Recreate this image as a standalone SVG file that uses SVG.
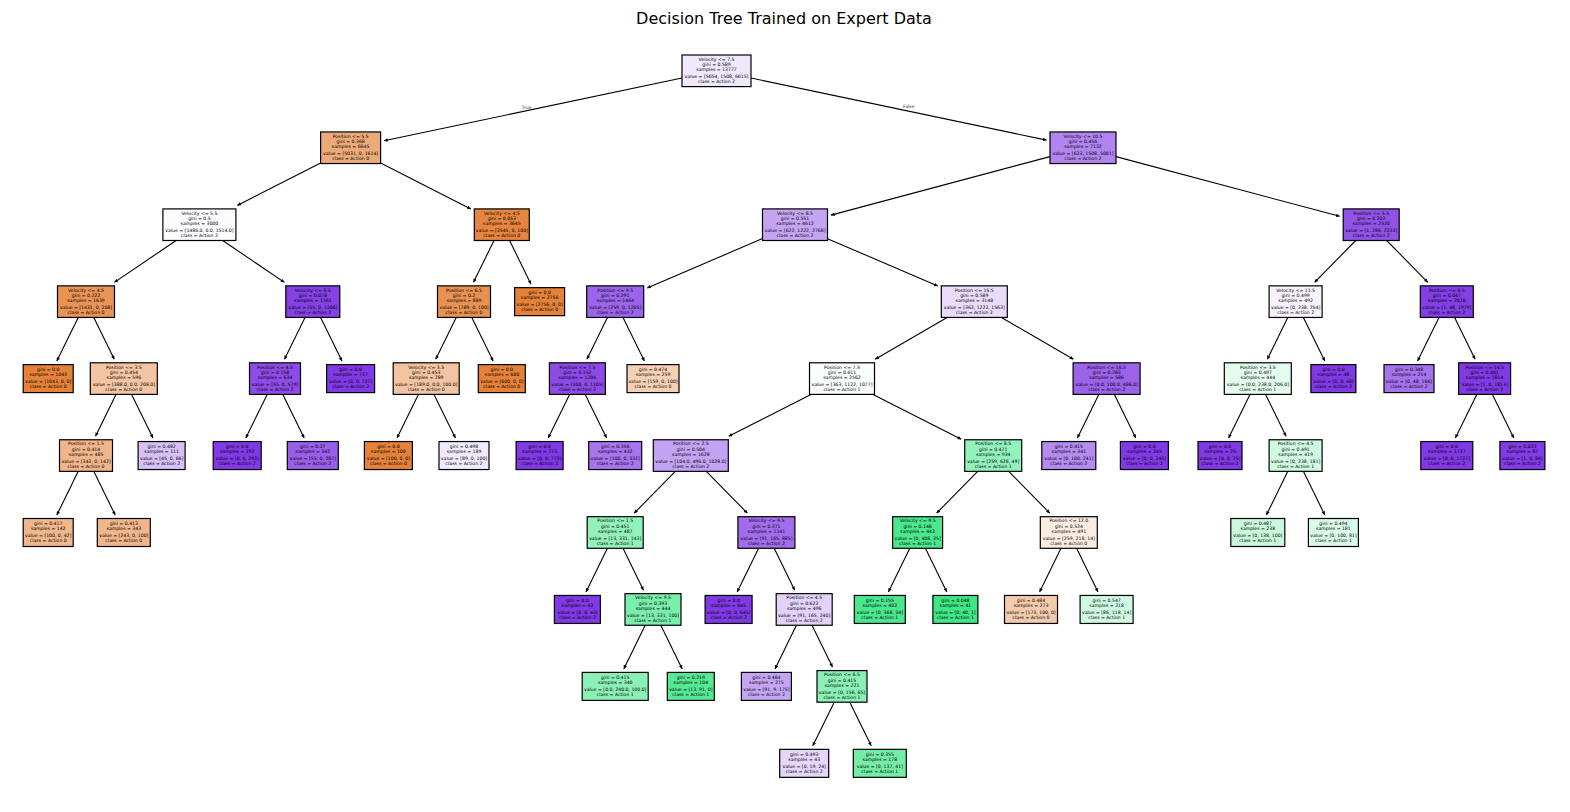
<svg xmlns="http://www.w3.org/2000/svg" width="1570" height="812" viewBox="0 0 1570 812">
<style>
.bg{fill:#fff}
.title{font-family:"DejaVu Sans",sans-serif;font-size:16px;fill:#000;text-anchor:middle}
.n rect{stroke:#000;stroke-width:1.2}
.n text,.lbl{font-family:"DejaVu Sans",sans-serif;font-size:4.6px;fill:#000;text-anchor:middle}
.lbl{fill:#333}
.e line{stroke:#000;stroke-width:1.1;fill:none}
</style>
<defs>
<marker id="ah" viewBox="0 0 4 4" refX="4" refY="2" markerWidth="4" markerHeight="3.6" orient="auto" markerUnits="userSpaceOnUse"><path d="M0,0 L4,2 L0,4 z" fill="#000"/></marker>
</defs>
<rect class="bg" x="0" y="0" width="1570" height="812"/>
<text class="title" x="784" y="24">Decision Tree Trained on Expert Data</text>

<g id="connectors" class="e">
<line x1="682" y1="78.06" x2="384.1" y2="140.7" marker-end="url(#ah)"/>
<line x1="751" y1="78.04" x2="1046.5" y2="140.1" marker-end="url(#ah)"/>
<line x1="320.6" y1="163" x2="237.3" y2="205.4" marker-end="url(#ah)"/>
<line x1="380.6" y1="163" x2="470.8" y2="208.9" marker-end="url(#ah)"/>
<line x1="1050" y1="156.6" x2="831" y2="215.1" marker-end="url(#ah)"/>
<line x1="1116" y1="156.6" x2="1339.7" y2="216.3" marker-end="url(#ah)"/>
<line x1="176.1" y1="240.5" x2="114.4" y2="282.35" marker-end="url(#ah)"/>
<line x1="222.7" y1="240.5" x2="284.4" y2="282.35" marker-end="url(#ah)"/>
<line x1="494" y1="240.5" x2="473.5" y2="282.35" marker-end="url(#ah)"/>
<line x1="509.6" y1="240.5" x2="531" y2="284.15" marker-end="url(#ah)"/>
<line x1="762.5" y1="238.6" x2="647.2" y2="287.95" marker-end="url(#ah)"/>
<line x1="827.5" y1="238.65" x2="937.8" y2="286" marker-end="url(#ah)"/>
<line x1="1355.7" y1="240.5" x2="1314.6" y2="282.35" marker-end="url(#ah)"/>
<line x1="1386.7" y1="240.5" x2="1427.8" y2="282.35" marker-end="url(#ah)"/>
<line x1="78.24" y1="317.45" x2="56.8" y2="361.1" marker-end="url(#ah)"/>
<line x1="93.76" y1="317.45" x2="114.3" y2="359.3" marker-end="url(#ah)"/>
<line x1="305" y1="317.45" x2="284.5" y2="359.3" marker-end="url(#ah)"/>
<line x1="320.6" y1="317.45" x2="342" y2="361.1" marker-end="url(#ah)"/>
<line x1="456.2" y1="317.45" x2="435.7" y2="359.3" marker-end="url(#ah)"/>
<line x1="471.8" y1="317.45" x2="493.2" y2="361.1" marker-end="url(#ah)"/>
<line x1="607.4" y1="317.45" x2="586.9" y2="359.3" marker-end="url(#ah)"/>
<line x1="623" y1="317.45" x2="644.4" y2="361.1" marker-end="url(#ah)"/>
<line x1="947.1" y1="317.45" x2="875.2" y2="359.3" marker-end="url(#ah)"/>
<line x1="1001.5" y1="317.45" x2="1073.4" y2="359.3" marker-end="url(#ah)"/>
<line x1="1287.8" y1="317.45" x2="1267.3" y2="359.3" marker-end="url(#ah)"/>
<line x1="1303.4" y1="317.45" x2="1324.8" y2="361.1" marker-end="url(#ah)"/>
<line x1="1439" y1="317.45" x2="1417.6" y2="361.1" marker-end="url(#ah)"/>
<line x1="1454.6" y1="317.45" x2="1475.1" y2="359.3" marker-end="url(#ah)"/>
<line x1="116" y1="394.4" x2="95.5" y2="436.25" marker-end="url(#ah)"/>
<line x1="131.6" y1="394.4" x2="153" y2="438.05" marker-end="url(#ah)"/>
<line x1="267.2" y1="394.4" x2="245.8" y2="438.05" marker-end="url(#ah)"/>
<line x1="282.8" y1="394.4" x2="304.2" y2="438.05" marker-end="url(#ah)"/>
<line x1="418.4" y1="394.4" x2="397" y2="438.05" marker-end="url(#ah)"/>
<line x1="434" y1="394.4" x2="455.4" y2="438.05" marker-end="url(#ah)"/>
<line x1="569.6" y1="394.4" x2="548.2" y2="438.05" marker-end="url(#ah)"/>
<line x1="585.2" y1="394.4" x2="606.6" y2="438.05" marker-end="url(#ah)"/>
<line x1="811" y1="394.4" x2="728.7" y2="436.25" marker-end="url(#ah)"/>
<line x1="873" y1="394.4" x2="961.2" y2="439.3" marker-end="url(#ah)"/>
<line x1="1098.8" y1="394.4" x2="1077.4" y2="438.05" marker-end="url(#ah)"/>
<line x1="1114.4" y1="394.4" x2="1135.8" y2="438.05" marker-end="url(#ah)"/>
<line x1="1250" y1="394.4" x2="1228.6" y2="438.05" marker-end="url(#ah)"/>
<line x1="1265.6" y1="394.4" x2="1286.1" y2="436.25" marker-end="url(#ah)"/>
<line x1="1476.8" y1="394.4" x2="1455.4" y2="438.05" marker-end="url(#ah)"/>
<line x1="1492.4" y1="394.4" x2="1513.8" y2="438.05" marker-end="url(#ah)"/>
<line x1="78.24" y1="471.35" x2="56.8" y2="515" marker-end="url(#ah)"/>
<line x1="93.76" y1="471.35" x2="115.2" y2="515" marker-end="url(#ah)"/>
<line x1="675.3" y1="471.35" x2="634.2" y2="513.2" marker-end="url(#ah)"/>
<line x1="706.3" y1="471.35" x2="747.4" y2="513.2" marker-end="url(#ah)"/>
<line x1="977.7" y1="471.35" x2="936.6" y2="513.2" marker-end="url(#ah)"/>
<line x1="1008.7" y1="471.35" x2="1049.8" y2="513.2" marker-end="url(#ah)"/>
<line x1="1287.8" y1="471.35" x2="1266.4" y2="515" marker-end="url(#ah)"/>
<line x1="1303.4" y1="471.35" x2="1324.8" y2="515" marker-end="url(#ah)"/>
<line x1="607.4" y1="548.3" x2="586" y2="591.95" marker-end="url(#ah)"/>
<line x1="623" y1="548.3" x2="643.5" y2="590.15" marker-end="url(#ah)"/>
<line x1="758.6" y1="548.3" x2="737.2" y2="591.95" marker-end="url(#ah)"/>
<line x1="774.2" y1="548.3" x2="794.7" y2="590.15" marker-end="url(#ah)"/>
<line x1="909.8" y1="548.3" x2="888.4" y2="591.95" marker-end="url(#ah)"/>
<line x1="925.4" y1="548.3" x2="946.8" y2="591.95" marker-end="url(#ah)"/>
<line x1="1061" y1="548.3" x2="1039.6" y2="591.95" marker-end="url(#ah)"/>
<line x1="1076.6" y1="548.3" x2="1098" y2="591.95" marker-end="url(#ah)"/>
<line x1="645.2" y1="625.25" x2="623.8" y2="668.9" marker-end="url(#ah)"/>
<line x1="660.8" y1="625.25" x2="682.2" y2="668.9" marker-end="url(#ah)"/>
<line x1="796.4" y1="625.25" x2="775" y2="668.9" marker-end="url(#ah)"/>
<line x1="812" y1="625.25" x2="832.5" y2="667.1" marker-end="url(#ah)"/>
<line x1="834.2" y1="702.2" x2="812.8" y2="745.85" marker-end="url(#ah)"/>
<line x1="849.8" y1="702.2" x2="871.2" y2="745.85" marker-end="url(#ah)"/>
</g>
<text class="lbl" x="526.7" y="108.8">True</text>
<text class="lbl" x="908.7" y="108.2">False</text>

<g id="n0" class="n" transform="translate(716.5,70.8)"><rect x="-34.5" y="-15.8" width="69" height="31.6" fill="#f0e8fc"/><text><tspan x="0" y="-10.1">Velocity &lt;= 7.5</tspan><tspan x="0" y="-4.9">gini = 0.589</tspan><tspan x="0" y="0.3">samples = 13777</tspan><tspan x="0" y="7.5">value = [5654, 1508, 6615]</tspan><tspan x="0" y="12.7">class = Action 2</tspan></text></g>
<g id="n1" class="n" transform="translate(350.6,147.75)"><rect x="-30" y="-15.8" width="60" height="31.6" fill="#edaa79"/><text><tspan x="0" y="-10.1">Position &lt;= 5.5</tspan><tspan x="0" y="-4.9">gini = 0.368</tspan><tspan x="0" y="0.3">samples = 6645</tspan><tspan x="0" y="7.5">value = [5031, 0, 1614]</tspan><tspan x="0" y="12.7">class = Action 0</tspan></text></g>
<g id="n2" class="n" transform="translate(1083,147.75)"><rect x="-33" y="-15.8" width="66" height="31.6" fill="#b184ef"/><text><tspan x="0" y="-10.1">Velocity &lt;= 10.5</tspan><tspan x="0" y="-4.9">gini = 0.456</tspan><tspan x="0" y="0.3">samples = 7132</tspan><tspan x="0" y="7.5">value = [623, 1508, 5001]</tspan><tspan x="0" y="12.7">class = Action 2</tspan></text></g>
<g id="n3" class="n" transform="translate(199.4,224.7)"><rect x="-36.5" y="-15.8" width="73" height="31.6" fill="#fdfbff"/><text><tspan x="0" y="-10.1">Velocity &lt;= 5.5</tspan><tspan x="0" y="-4.9">gini = 0.5</tspan><tspan x="0" y="0.3">samples = 3000</tspan><tspan x="0" y="7.5">value = [1486.0, 0.0, 1514.0]</tspan><tspan x="0" y="12.7">class = Action 2</tspan></text></g>
<g id="n4" class="n" transform="translate(501.8,224.7)"><rect x="-27.5" y="-15.8" width="55" height="31.6" fill="#e6853f"/><text><tspan x="0" y="-10.1">Velocity &lt;= 4.5</tspan><tspan x="0" y="-4.9">gini = 0.053</tspan><tspan x="0" y="0.3">samples = 3645</tspan><tspan x="0" y="7.5">value = [3545, 0, 100]</tspan><tspan x="0" y="12.7">class = Action 0</tspan></text></g>
<g id="n5" class="n" transform="translate(795,224.7)"><rect x="-32.5" y="-15.8" width="65" height="31.6" fill="#c5a5f3"/><text><tspan x="0" y="-10.1">Velocity &lt;= 8.5</tspan><tspan x="0" y="-4.9">gini = 0.551</tspan><tspan x="0" y="0.3">samples = 4612</tspan><tspan x="0" y="7.5">value = [622, 1222, 2768]</tspan><tspan x="0" y="12.7">class = Action 2</tspan></text></g>
<g id="n6" class="n" transform="translate(1371.2,224.7)"><rect x="-28" y="-15.8" width="56" height="31.6" fill="#9152e8"/><text><tspan x="0" y="-10.1">Position &lt;= 5.5</tspan><tspan x="0" y="-4.9">gini = 0.202</tspan><tspan x="0" y="0.3">samples = 2520</tspan><tspan x="0" y="7.5">value = [1, 286, 2233]</tspan><tspan x="0" y="12.7">class = Action 2</tspan></text></g>
<g id="n7" class="n" transform="translate(86,301.65)"><rect x="-28.5" y="-15.8" width="57" height="31.6" fill="#e99356"/><text><tspan x="0" y="-10.1">Velocity &lt;= 4.5</tspan><tspan x="0" y="-4.9">gini = 0.222</tspan><tspan x="0" y="0.3">samples = 1639</tspan><tspan x="0" y="7.5">value = [1431, 0, 208]</tspan><tspan x="0" y="12.7">class = Action 0</tspan></text></g>
<g id="n8" class="n" transform="translate(312.8,301.65)"><rect x="-27" y="-15.8" width="54" height="31.6" fill="#8641e6"/><text><tspan x="0" y="-10.1">Velocity &lt;= 6.5</tspan><tspan x="0" y="-4.9">gini = 0.078</tspan><tspan x="0" y="0.3">samples = 1361</tspan><tspan x="0" y="7.5">value = [55, 0, 1306]</tspan><tspan x="0" y="12.7">class = Action 2</tspan></text></g>
<g id="n9" class="n" transform="translate(464,301.65)"><rect x="-26.5" y="-15.8" width="53" height="31.6" fill="#e89152"/><text><tspan x="0" y="-10.1">Position &lt;= 6.5</tspan><tspan x="0" y="-4.9">gini = 0.2</tspan><tspan x="0" y="0.3">samples = 889</tspan><tspan x="0" y="7.5">value = [789, 0, 100]</tspan><tspan x="0" y="12.7">class = Action 0</tspan></text></g>
<g id="n10" class="n" transform="translate(539.6,301.65)"><rect x="-25" y="-14" width="50" height="28" fill="#e58139"/><text><tspan x="0" y="-7.2">gini = 0.0</tspan><tspan x="0" y="-2.2">samples = 2756</tspan><tspan x="0" y="4.8">value = [2756, 0, 0]</tspan><tspan x="0" y="9.8">class = Action 0</tspan></text></g>
<g id="n11" class="n" transform="translate(615.2,301.65)"><rect x="-28.5" y="-15.8" width="57" height="31.6" fill="#9c64eb"/><text><tspan x="0" y="-10.1">Position &lt;= 9.5</tspan><tspan x="0" y="-4.9">gini = 0.291</tspan><tspan x="0" y="0.3">samples = 1464</tspan><tspan x="0" y="7.5">value = [259, 0, 1205]</tspan><tspan x="0" y="12.7">class = Action 2</tspan></text></g>
<g id="n12" class="n" transform="translate(974.3,301.65)"><rect x="-33" y="-15.8" width="66" height="31.6" fill="#e9dcfa"/><text><tspan x="0" y="-10.1">Position &lt;= 15.5</tspan><tspan x="0" y="-4.9">gini = 0.589</tspan><tspan x="0" y="0.3">samples = 3148</tspan><tspan x="0" y="7.5">value = [363, 1222, 1563]</tspan><tspan x="0" y="12.7">class = Action 2</tspan></text></g>
<g id="n13" class="n" transform="translate(1295.6,301.65)"><rect x="-26.5" y="-15.8" width="53" height="31.6" fill="#f7f2fd"/><text><tspan x="0" y="-10.1">Velocity &lt;= 11.5</tspan><tspan x="0" y="-4.9">gini = 0.499</tspan><tspan x="0" y="0.3">samples = 492</tspan><tspan x="0" y="7.5">value = [0, 238, 254]</tspan><tspan x="0" y="12.7">class = Action 2</tspan></text></g>
<g id="n14" class="n" transform="translate(1446.8,301.65)"><rect x="-26.5" y="-15.8" width="53" height="31.6" fill="#843ee6"/><text><tspan x="0" y="-10.1">Position &lt;= 6.5</tspan><tspan x="0" y="-4.9">gini = 0.047</tspan><tspan x="0" y="0.3">samples = 2028</tspan><tspan x="0" y="7.5">value = [1, 48, 1979]</tspan><tspan x="0" y="12.7">class = Action 2</tspan></text></g>
<g id="n15" class="n" transform="translate(48.2,378.6)"><rect x="-25" y="-14" width="50" height="28" fill="#e58139"/><text><tspan x="0" y="-7.2">gini = 0.0</tspan><tspan x="0" y="-2.2">samples = 1043</tspan><tspan x="0" y="4.8">value = [1043, 0, 0]</tspan><tspan x="0" y="9.8">class = Action 0</tspan></text></g>
<g id="n16" class="n" transform="translate(123.8,378.6)"><rect x="-33.5" y="-15.8" width="67" height="31.6" fill="#f3c5a3"/><text><tspan x="0" y="-10.1">Position &lt;= 3.5</tspan><tspan x="0" y="-4.9">gini = 0.454</tspan><tspan x="0" y="0.3">samples = 596</tspan><tspan x="0" y="7.5">value = [388.0, 0.0, 208.0]</tspan><tspan x="0" y="12.7">class = Action 0</tspan></text></g>
<g id="n17" class="n" transform="translate(275,378.6)"><rect x="-25.5" y="-15.8" width="51" height="31.6" fill="#8d4ce7"/><text><tspan x="0" y="-10.1">Position &lt;= 4.5</tspan><tspan x="0" y="-4.9">gini = 0.158</tspan><tspan x="0" y="0.3">samples = 634</tspan><tspan x="0" y="7.5">value = [55, 0, 579]</tspan><tspan x="0" y="12.7">class = Action 2</tspan></text></g>
<g id="n18" class="n" transform="translate(350.6,378.6)"><rect x="-24" y="-14" width="48" height="28" fill="#8139e5"/><text><tspan x="0" y="-7.2">gini = 0.0</tspan><tspan x="0" y="-2.2">samples = 727</tspan><tspan x="0" y="4.8">value = [0, 0, 727]</tspan><tspan x="0" y="9.8">class = Action 2</tspan></text></g>
<g id="n19" class="n" transform="translate(426.2,378.6)"><rect x="-33" y="-15.8" width="66" height="31.6" fill="#f3c4a2"/><text><tspan x="0" y="-10.1">Velocity &lt;= 3.5</tspan><tspan x="0" y="-4.9">gini = 0.453</tspan><tspan x="0" y="0.3">samples = 289</tspan><tspan x="0" y="7.5">value = [189.0, 0.0, 100.0]</tspan><tspan x="0" y="12.7">class = Action 0</tspan></text></g>
<g id="n20" class="n" transform="translate(501.8,378.6)"><rect x="-23.5" y="-14" width="47" height="28" fill="#e58139"/><text><tspan x="0" y="-7.2">gini = 0.0</tspan><tspan x="0" y="-2.2">samples = 600</tspan><tspan x="0" y="4.8">value = [600, 0, 0]</tspan><tspan x="0" y="9.8">class = Action 0</tspan></text></g>
<g id="n21" class="n" transform="translate(577.4,378.6)"><rect x="-28" y="-15.8" width="56" height="31.6" fill="#8c4be7"/><text><tspan x="0" y="-10.1">Position &lt;= 7.5</tspan><tspan x="0" y="-4.9">gini = 0.152</tspan><tspan x="0" y="0.3">samples = 1205</tspan><tspan x="0" y="7.5">value = [100, 0, 1105]</tspan><tspan x="0" y="12.7">class = Action 2</tspan></text></g>
<g id="n22" class="n" transform="translate(653,378.6)"><rect x="-26" y="-14" width="52" height="28" fill="#f5d0b5"/><text><tspan x="0" y="-7.2">gini = 0.474</tspan><tspan x="0" y="-2.2">samples = 259</tspan><tspan x="0" y="4.8">value = [159, 0, 100]</tspan><tspan x="0" y="9.8">class = Action 0</tspan></text></g>
<g id="n23" class="n" transform="translate(842,378.6)"><rect x="-32.5" y="-15.8" width="65" height="31.6" fill="#f9fefb"/><text><tspan x="0" y="-10.1">Position &lt;= 7.5</tspan><tspan x="0" y="-4.9">gini = 0.611</tspan><tspan x="0" y="0.3">samples = 2562</tspan><tspan x="0" y="7.5">value = [363, 1122, 1077]</tspan><tspan x="0" y="12.7">class = Action 1</tspan></text></g>
<g id="n24" class="n" transform="translate(1106.6,378.6)"><rect x="-33.5" y="-15.8" width="67" height="31.6" fill="#9b62ea"/><text><tspan x="0" y="-10.1">Position &lt;= 16.5</tspan><tspan x="0" y="-4.9">gini = 0.283</tspan><tspan x="0" y="0.3">samples = 586</tspan><tspan x="0" y="7.5">value = [0.0, 100.0, 486.0]</tspan><tspan x="0" y="12.7">class = Action 2</tspan></text></g>
<g id="n25" class="n" transform="translate(1257.8,378.6)"><rect x="-33.5" y="-15.8" width="67" height="31.6" fill="#e4fcee"/><text><tspan x="0" y="-10.1">Position &lt;= 3.5</tspan><tspan x="0" y="-4.9">gini = 0.497</tspan><tspan x="0" y="0.3">samples = 444</tspan><tspan x="0" y="7.5">value = [0.0, 238.0, 206.0]</tspan><tspan x="0" y="12.7">class = Action 1</tspan></text></g>
<g id="n26" class="n" transform="translate(1333.4,378.6)"><rect x="-22.5" y="-14" width="45" height="28" fill="#8139e5"/><text><tspan x="0" y="-7.2">gini = 0.0</tspan><tspan x="0" y="-2.2">samples = 48</tspan><tspan x="0" y="4.8">value = [0, 0, 48]</tspan><tspan x="0" y="9.8">class = Action 2</tspan></text></g>
<g id="n27" class="n" transform="translate(1409,378.6)"><rect x="-25" y="-14" width="50" height="28" fill="#a572ed"/><text><tspan x="0" y="-7.2">gini = 0.348</tspan><tspan x="0" y="-2.2">samples = 214</tspan><tspan x="0" y="4.8">value = [0, 48, 166]</tspan><tspan x="0" y="9.8">class = Action 2</tspan></text></g>
<g id="n28" class="n" transform="translate(1484.6,378.6)"><rect x="-26" y="-15.8" width="52" height="31.6" fill="#8139e5"/><text><tspan x="0" y="-10.1">Position &lt;= 14.5</tspan><tspan x="0" y="-4.9">gini = 0.001</tspan><tspan x="0" y="0.3">samples = 1814</tspan><tspan x="0" y="7.5">value = [1, 0, 1813]</tspan><tspan x="0" y="12.7">class = Action 2</tspan></text></g>
<g id="n29" class="n" transform="translate(86,455.55)"><rect x="-26.5" y="-15.8" width="53" height="31.6" fill="#f0b58b"/><text><tspan x="0" y="-10.1">Position &lt;= 1.5</tspan><tspan x="0" y="-4.9">gini = 0.414</tspan><tspan x="0" y="0.3">samples = 485</tspan><tspan x="0" y="7.5">value = [343, 0, 142]</tspan><tspan x="0" y="12.7">class = Action 0</tspan></text></g>
<g id="n30" class="n" transform="translate(161.6,455.55)"><rect x="-23.5" y="-14" width="47" height="28" fill="#d7c0f7"/><text><tspan x="0" y="-7.2">gini = 0.482</tspan><tspan x="0" y="-2.2">samples = 111</tspan><tspan x="0" y="4.8">value = [45, 0, 66]</tspan><tspan x="0" y="9.8">class = Action 2</tspan></text></g>
<g id="n31" class="n" transform="translate(237.2,455.55)"><rect x="-24" y="-14" width="48" height="28" fill="#8139e5"/><text><tspan x="0" y="-7.2">gini = 0.0</tspan><tspan x="0" y="-2.2">samples = 292</tspan><tspan x="0" y="4.8">value = [0, 0, 292]</tspan><tspan x="0" y="9.8">class = Action 2</tspan></text></g>
<g id="n32" class="n" transform="translate(312.8,455.55)"><rect x="-25.5" y="-14" width="51" height="28" fill="#995fea"/><text><tspan x="0" y="-7.2">gini = 0.27</tspan><tspan x="0" y="-2.2">samples = 342</tspan><tspan x="0" y="4.8">value = [55, 0, 287]</tspan><tspan x="0" y="9.8">class = Action 2</tspan></text></g>
<g id="n33" class="n" transform="translate(388.4,455.55)"><rect x="-24" y="-14" width="48" height="28" fill="#e58139"/><text><tspan x="0" y="-7.2">gini = 0.0</tspan><tspan x="0" y="-2.2">samples = 100</tspan><tspan x="0" y="4.8">value = [100, 0, 0]</tspan><tspan x="0" y="9.8">class = Action 0</tspan></text></g>
<g id="n34" class="n" transform="translate(464,455.55)"><rect x="-25" y="-14" width="50" height="28" fill="#f1e9fc"/><text><tspan x="0" y="-7.2">gini = 0.498</tspan><tspan x="0" y="-2.2">samples = 189</tspan><tspan x="0" y="4.8">value = [89, 0, 100]</tspan><tspan x="0" y="9.8">class = Action 2</tspan></text></g>
<g id="n35" class="n" transform="translate(539.6,455.55)"><rect x="-23.5" y="-14" width="47" height="28" fill="#8139e5"/><text><tspan x="0" y="-7.2">gini = 0.0</tspan><tspan x="0" y="-2.2">samples = 773</tspan><tspan x="0" y="4.8">value = [0, 0, 773]</tspan><tspan x="0" y="9.8">class = Action 2</tspan></text></g>
<g id="n36" class="n" transform="translate(615.2,455.55)"><rect x="-26.5" y="-14" width="53" height="28" fill="#a775ed"/><text><tspan x="0" y="-7.2">gini = 0.356</tspan><tspan x="0" y="-2.2">samples = 432</tspan><tspan x="0" y="4.8">value = [100, 0, 332]</tspan><tspan x="0" y="9.8">class = Action 2</tspan></text></g>
<g id="n37" class="n" transform="translate(690.8,455.55)"><rect x="-37.5" y="-15.8" width="75" height="31.6" fill="#c4a2f3"/><text><tspan x="0" y="-10.1">Position &lt;= 2.5</tspan><tspan x="0" y="-4.9">gini = 0.504</tspan><tspan x="0" y="0.3">samples = 1628</tspan><tspan x="0" y="7.5">value = [104.0, 496.0, 1028.0]</tspan><tspan x="0" y="12.7">class = Action 2</tspan></text></g>
<g id="n38" class="n" transform="translate(993.2,455.55)"><rect x="-28.5" y="-15.8" width="57" height="31.6" fill="#93f1bb"/><text><tspan x="0" y="-10.1">Position &lt;= 8.5</tspan><tspan x="0" y="-4.9">gini = 0.471</tspan><tspan x="0" y="0.3">samples = 934</tspan><tspan x="0" y="7.5">value = [259, 626, 49]</tspan><tspan x="0" y="12.7">class = Action 1</tspan></text></g>
<g id="n39" class="n" transform="translate(1068.8,455.55)"><rect x="-27" y="-14" width="54" height="28" fill="#b58bf0"/><text><tspan x="0" y="-7.2">gini = 0.415</tspan><tspan x="0" y="-2.2">samples = 341</tspan><tspan x="0" y="4.8">value = [0, 100, 241]</tspan><tspan x="0" y="9.8">class = Action 2</tspan></text></g>
<g id="n40" class="n" transform="translate(1144.4,455.55)"><rect x="-24" y="-14" width="48" height="28" fill="#8139e5"/><text><tspan x="0" y="-7.2">gini = 0.0</tspan><tspan x="0" y="-2.2">samples = 245</tspan><tspan x="0" y="4.8">value = [0, 0, 245]</tspan><tspan x="0" y="9.8">class = Action 2</tspan></text></g>
<g id="n41" class="n" transform="translate(1220,455.55)"><rect x="-22" y="-14" width="44" height="28" fill="#8139e5"/><text><tspan x="0" y="-7.2">gini = 0.0</tspan><tspan x="0" y="-2.2">samples = 25</tspan><tspan x="0" y="4.8">value = [0, 0, 25]</tspan><tspan x="0" y="9.8">class = Action 2</tspan></text></g>
<g id="n42" class="n" transform="translate(1295.6,455.55)"><rect x="-26.5" y="-15.8" width="53" height="31.6" fill="#d0f9e1"/><text><tspan x="0" y="-10.1">Position &lt;= 4.5</tspan><tspan x="0" y="-4.9">gini = 0.491</tspan><tspan x="0" y="0.3">samples = 419</tspan><tspan x="0" y="7.5">value = [0, 238, 181]</tspan><tspan x="0" y="12.7">class = Action 1</tspan></text></g>
<g id="n43" class="n" transform="translate(1446.8,455.55)"><rect x="-26" y="-14" width="52" height="28" fill="#8139e5"/><text><tspan x="0" y="-7.2">gini = 0.0</tspan><tspan x="0" y="-2.2">samples = 1727</tspan><tspan x="0" y="4.8">value = [0, 0, 1727]</tspan><tspan x="0" y="9.8">class = Action 2</tspan></text></g>
<g id="n44" class="n" transform="translate(1522.4,455.55)"><rect x="-22.5" y="-14" width="45" height="28" fill="#823be6"/><text><tspan x="0" y="-7.2">gini = 0.023</tspan><tspan x="0" y="-2.2">samples = 87</tspan><tspan x="0" y="4.8">value = [1, 0, 86]</tspan><tspan x="0" y="9.8">class = Action 2</tspan></text></g>
<g id="n45" class="n" transform="translate(48.2,532.5)"><rect x="-25" y="-14" width="50" height="28" fill="#f0b68c"/><text><tspan x="0" y="-7.2">gini = 0.417</tspan><tspan x="0" y="-2.2">samples = 142</tspan><tspan x="0" y="4.8">value = [100, 0, 42]</tspan><tspan x="0" y="9.8">class = Action 0</tspan></text></g>
<g id="n46" class="n" transform="translate(123.8,532.5)"><rect x="-26.5" y="-14" width="53" height="28" fill="#f0b58a"/><text><tspan x="0" y="-7.2">gini = 0.413</tspan><tspan x="0" y="-2.2">samples = 343</tspan><tspan x="0" y="4.8">value = [243, 0, 100]</tspan><tspan x="0" y="9.8">class = Action 0</tspan></text></g>
<g id="n47" class="n" transform="translate(615.2,532.5)"><rect x="-28" y="-15.8" width="56" height="31.6" fill="#93f1ba"/><text><tspan x="0" y="-10.1">Position &lt;= 1.5</tspan><tspan x="0" y="-4.9">gini = 0.451</tspan><tspan x="0" y="0.3">samples = 487</tspan><tspan x="0" y="7.5">value = [13, 331, 143]</tspan><tspan x="0" y="12.7">class = Action 1</tspan></text></g>
<g id="n48" class="n" transform="translate(766.4,532.5)"><rect x="-28.5" y="-15.8" width="57" height="31.6" fill="#a26dec"/><text><tspan x="0" y="-10.1">Velocity &lt;= 9.5</tspan><tspan x="0" y="-4.9">gini = 0.371</tspan><tspan x="0" y="0.3">samples = 1141</tspan><tspan x="0" y="7.5">value = [91, 165, 885]</tspan><tspan x="0" y="12.7">class = Action 2</tspan></text></g>
<g id="n49" class="n" transform="translate(917.6,532.5)"><rect x="-25" y="-15.8" width="50" height="31.6" fill="#4ae78c"/><text><tspan x="0" y="-10.1">Velocity &lt;= 9.5</tspan><tspan x="0" y="-4.9">gini = 0.148</tspan><tspan x="0" y="0.3">samples = 443</tspan><tspan x="0" y="7.5">value = [0, 408, 35]</tspan><tspan x="0" y="12.7">class = Action 1</tspan></text></g>
<g id="n50" class="n" transform="translate(1068.8,532.5)"><rect x="-28.5" y="-15.8" width="57" height="31.6" fill="#fbece1"/><text><tspan x="0" y="-10.1">Position &lt;= 12.0</tspan><tspan x="0" y="-4.9">gini = 0.524</tspan><tspan x="0" y="0.3">samples = 491</tspan><tspan x="0" y="7.5">value = [259, 218, 14]</tspan><tspan x="0" y="12.7">class = Action 0</tspan></text></g>
<g id="n51" class="n" transform="translate(1257.8,532.5)"><rect x="-27" y="-14" width="54" height="28" fill="#c9f8dc"/><text><tspan x="0" y="-7.2">gini = 0.487</tspan><tspan x="0" y="-2.2">samples = 238</tspan><tspan x="0" y="4.8">value = [0, 138, 100]</tspan><tspan x="0" y="9.8">class = Action 1</tspan></text></g>
<g id="n52" class="n" transform="translate(1333.4,532.5)"><rect x="-25" y="-14" width="50" height="28" fill="#d9fae7"/><text><tspan x="0" y="-7.2">gini = 0.494</tspan><tspan x="0" y="-2.2">samples = 181</tspan><tspan x="0" y="4.8">value = [0, 100, 81]</tspan><tspan x="0" y="9.8">class = Action 1</tspan></text></g>
<g id="n53" class="n" transform="translate(577.4,609.45)"><rect x="-23" y="-14" width="46" height="28" fill="#8139e5"/><text><tspan x="0" y="-7.2">gini = 0.0</tspan><tspan x="0" y="-2.2">samples = 43</tspan><tspan x="0" y="4.8">value = [0, 0, 43]</tspan><tspan x="0" y="9.8">class = Action 2</tspan></text></g>
<g id="n54" class="n" transform="translate(653,609.45)"><rect x="-28" y="-15.8" width="56" height="31.6" fill="#7aeeaa"/><text><tspan x="0" y="-10.1">Velocity &lt;= 9.5</tspan><tspan x="0" y="-4.9">gini = 0.393</tspan><tspan x="0" y="0.3">samples = 444</tspan><tspan x="0" y="7.5">value = [13, 331, 100]</tspan><tspan x="0" y="12.7">class = Action 1</tspan></text></g>
<g id="n55" class="n" transform="translate(728.6,609.45)"><rect x="-23.5" y="-14" width="47" height="28" fill="#8139e5"/><text><tspan x="0" y="-7.2">gini = 0.0</tspan><tspan x="0" y="-2.2">samples = 645</tspan><tspan x="0" y="4.8">value = [0, 0, 645]</tspan><tspan x="0" y="9.8">class = Action 2</tspan></text></g>
<g id="n56" class="n" transform="translate(804.2,609.45)"><rect x="-28" y="-15.8" width="56" height="31.6" fill="#e2d2f9"/><text><tspan x="0" y="-10.1">Position &lt;= 4.5</tspan><tspan x="0" y="-4.9">gini = 0.622</tspan><tspan x="0" y="0.3">samples = 496</tspan><tspan x="0" y="7.5">value = [91, 165, 240]</tspan><tspan x="0" y="12.7">class = Action 2</tspan></text></g>
<g id="n57" class="n" transform="translate(879.8,609.45)"><rect x="-25.5" y="-14" width="51" height="28" fill="#4be78d"/><text><tspan x="0" y="-7.2">gini = 0.155</tspan><tspan x="0" y="-2.2">samples = 402</tspan><tspan x="0" y="4.8">value = [0, 368, 34]</tspan><tspan x="0" y="9.8">class = Action 1</tspan></text></g>
<g id="n58" class="n" transform="translate(955.4,609.45)"><rect x="-22.5" y="-14" width="45" height="28" fill="#3ee684"/><text><tspan x="0" y="-7.2">gini = 0.048</tspan><tspan x="0" y="-2.2">samples = 41</tspan><tspan x="0" y="4.8">value = [0, 40, 1]</tspan><tspan x="0" y="9.8">class = Action 1</tspan></text></g>
<g id="n59" class="n" transform="translate(1031,609.45)"><rect x="-26.5" y="-14" width="53" height="28" fill="#f4caac"/><text><tspan x="0" y="-7.2">gini = 0.484</tspan><tspan x="0" y="-2.2">samples = 273</tspan><tspan x="0" y="4.8">value = [173, 100, 0]</tspan><tspan x="0" y="9.8">class = Action 0</tspan></text></g>
<g id="n60" class="n" transform="translate(1106.6,609.45)"><rect x="-26.5" y="-14" width="53" height="28" fill="#cff9e1"/><text><tspan x="0" y="-7.2">gini = 0.547</tspan><tspan x="0" y="-2.2">samples = 218</tspan><tspan x="0" y="4.8">value = [86, 118, 14]</tspan><tspan x="0" y="9.8">class = Action 1</tspan></text></g>
<g id="n61" class="n" transform="translate(615.2,686.4)"><rect x="-33" y="-14" width="66" height="28" fill="#8cf0b6"/><text><tspan x="0" y="-7.2">gini = 0.415</tspan><tspan x="0" y="-2.2">samples = 340</tspan><tspan x="0" y="4.8">value = [0.0, 240.0, 100.0]</tspan><tspan x="0" y="9.8">class = Action 1</tspan></text></g>
<g id="n62" class="n" transform="translate(690.8,686.4)"><rect x="-23.5" y="-14" width="47" height="28" fill="#55e993"/><text><tspan x="0" y="-7.2">gini = 0.219</tspan><tspan x="0" y="-2.2">samples = 104</tspan><tspan x="0" y="4.8">value = [13, 91, 0]</tspan><tspan x="0" y="9.8">class = Action 1</tspan></text></g>
<g id="n63" class="n" transform="translate(766.4,686.4)"><rect x="-25" y="-14" width="50" height="28" fill="#c5a5f3"/><text><tspan x="0" y="-7.2">gini = 0.484</tspan><tspan x="0" y="-2.2">samples = 275</tspan><tspan x="0" y="4.8">value = [91, 9, 175]</tspan><tspan x="0" y="9.8">class = Action 2</tspan></text></g>
<g id="n64" class="n" transform="translate(842,686.4)"><rect x="-25" y="-15.8" width="50" height="31.6" fill="#8cf0b6"/><text><tspan x="0" y="-10.1">Position &lt;= 6.5</tspan><tspan x="0" y="-4.9">gini = 0.415</tspan><tspan x="0" y="0.3">samples = 221</tspan><tspan x="0" y="7.5">value = [0, 156, 65]</tspan><tspan x="0" y="12.7">class = Action 1</tspan></text></g>
<g id="n65" class="n" transform="translate(804.2,763.35)"><rect x="-24.5" y="-14" width="49" height="28" fill="#e5d6fa"/><text><tspan x="0" y="-7.2">gini = 0.493</tspan><tspan x="0" y="-2.2">samples = 43</tspan><tspan x="0" y="4.8">value = [0, 19, 24]</tspan><tspan x="0" y="9.8">class = Action 2</tspan></text></g>
<g id="n66" class="n" transform="translate(879.8,763.35)"><rect x="-26.5" y="-14" width="53" height="28" fill="#74eda7"/><text><tspan x="0" y="-7.2">gini = 0.355</tspan><tspan x="0" y="-2.2">samples = 178</tspan><tspan x="0" y="4.8">value = [0, 137, 41]</tspan><tspan x="0" y="9.8">class = Action 1</tspan></text></g>
</svg>
